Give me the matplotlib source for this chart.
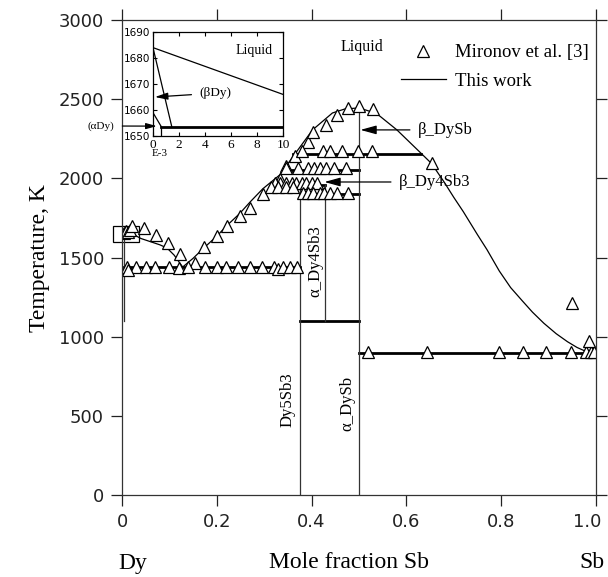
import matplotlib
matplotlib.use("Agg")
import matplotlib.pyplot as plt
import matplotlib.transforms as mtransforms
from matplotlib.lines import Line2D

SERIF = "Liberation Serif"

# liquidus curves (calculated, "This work")
liq_dy_x = [0.0, 0.02, 0.04, 0.06, 0.08, 0.095, 0.11, 0.128]
liq_dy_t = [1684, 1652, 1620, 1600, 1580, 1560, 1515, 1440]
liq_mid_x = [0.128, 0.15, 0.171, 0.2, 0.221, 0.248, 0.27, 0.297, 0.333, 0.368, 0.402, 0.444, 0.47, 0.5]
liq_mid_t = [1440, 1495, 1556, 1635, 1701, 1777, 1850, 1934, 2022, 2167, 2306, 2413, 2438, 2445]
liq_sb_x = [0.5, 0.537, 0.58, 0.628, 0.653, 0.68, 0.7, 0.72, 0.75, 0.77, 0.796, 0.82,
            0.845, 0.866, 0.89, 0.916, 0.94, 0.96, 0.975, 0.985, 1.0]
liq_sb_t = [2445, 2410, 2306, 2167, 2094, 1975, 1880, 1790, 1644, 1550, 1415, 1310,
            1225, 1155, 1085, 1019, 968, 932, 912, 902, 904]

# invariant (horizontal) lines: temperature, x start, x end
inv_t = [1440, 1100, 1900, 1955, 2055, 2155, 900]
inv_x0 = [0.004, 0.375, 0.375, 0.315, 0.345, 0.36, 0.5]
inv_x1 = [0.375, 0.5, 0.5, 0.4286, 0.5, 0.63, 1.0]

# compound lines: x, T low, T high
comp_x = [0.375, 0.4286, 0.5, 0.004]
comp_lo = [0, 1100, 0, 1100]
comp_hi = [1955, 1960, 2445, 1650]

# Mironov et al. [3] data
mir_x = [0.005, 0.009, 0.013, 0.017,
         0.022, 0.047, 0.072, 0.096, 0.122,
         0.154, 0.173, 0.2, 0.222, 0.248, 0.27, 0.297, 0.333, 0.347, 0.364,
         0.392, 0.403, 0.43, 0.453, 0.476, 0.499, 0.53, 0.653,
         0.01, 0.03, 0.05, 0.07, 0.1, 0.12, 0.14, 0.175, 0.2, 0.22, 0.245,
         0.27, 0.295, 0.32, 0.33, 0.34, 0.355, 0.37, 0.012,
         0.379, 0.423, 0.438, 0.465, 0.497, 0.528,
         0.345, 0.371, 0.392, 0.406, 0.417, 0.43, 0.448, 0.473,
         0.322, 0.333, 0.347, 0.358, 0.368, 0.379, 0.389, 0.4, 0.411,
         0.315, 0.33, 0.345, 0.36,
         0.381, 0.392, 0.402, 0.417, 0.427, 0.438, 0.453, 0.476,
         0.518, 0.644, 0.796, 0.845, 0.895, 0.947, 0.979, 0.989, 0.996,
         0.95, 0.985]
mir_t = [1655, 1670, 1660, 1675,
         1701, 1688, 1645, 1594, 1525,
         1468, 1569, 1638, 1701, 1764, 1815, 1903, 1997, 2080, 2142,
         2230, 2295, 2340, 2400, 2442, 2457, 2435, 2098,
         1440, 1438, 1442, 1438, 1440, 1436, 1440, 1438, 1442, 1440, 1438,
         1440, 1442, 1438, 1425, 1440, 1438, 1440, 1418,
         2170, 2170, 2170, 2170, 2170, 2170,
         2065, 2065, 2065, 2065, 2065, 2065, 2065, 2065,
         1972, 1972, 1972, 1972, 1972, 1972, 1972, 1972, 1972,
         1945, 1945, 1945, 1945,
         1910, 1910, 1910, 1910, 1910, 1910, 1910, 1910,
         905, 905, 905, 905, 905, 905, 905, 905, 905,
         1210, 975]

# inset (Dy-rich corner, x in units of 1e-3)
ins_liq_x = [0, 10]
ins_liq_t = [1684, 1666]
ins_bdy_x = [0, 1.45]
ins_bdy_t = [1684, 1653.5]
ins_ady_x = [0, 0.65]
ins_ady_t = [1659, 1653.5]


def main():
    fig = plt.figure(figsize=(6.08, 5.77), dpi=100)
    ax = fig.add_axes([0.2007, 0.1421, 0.7795, 0.8232])

    ax.plot(liq_dy_x, liq_dy_t, "k-", lw=0.9)
    ax.plot(liq_mid_x, liq_mid_t, "k-", lw=0.9)
    ax.plot(liq_sb_x, liq_sb_t, "k-", lw=0.9)
    for t, a, b in zip(inv_t, inv_x0, inv_x1):
        ax.plot([a, b], [t, t], "k-", lw=2.0)
    for x, lo, hi in zip(comp_x, comp_lo, comp_hi):
        ax.plot([x, x], [lo, hi], color="#333333", lw=0.9)

    ax.plot(mir_x, mir_t, ls="none", marker="^", ms=8.5, mfc="white",
            mec="black", mew=0.9)

    # small box marking the inset region
    ax.add_patch(plt.Rectangle((-0.019, 1600), 0.055, 100, fill=False,
                               ec="black", lw=0.9, clip_on=False))

    ax.set_xlim(0, 1)
    ax.set_ylim(0, 3000)
    ax.set_xticks([0, 0.2, 0.4, 0.6, 0.8, 1.0])
    ax.set_xticklabels(["0", "0.2", "0.4", "0.6", "0.8", "1.0"])
    ax.set_yticks(range(0, 3001, 500))
    ax.tick_params(direction="out", length=8, width=0.9, top=True, right=True,
                   labelsize=13, pad=5, colors="#222222")
    for s in ax.spines.values():
        s.set_linewidth(0.9)
        s.set_color("#333333")
    # keep the last tick label inside the picture
    last = ax.get_xticklabels()[-1]
    last.set_transform(last.get_transform() +
                       mtransforms.ScaledTranslation(-6 / 72, 0, fig.dpi_scale_trans))

    ax.text(0.507, 2830, "Liquid", family=SERIF, fontsize=11.5, ha="center", va="center")
    arrow = dict(arrowstyle="-|>,head_length=0.8,head_width=0.22", color="black",
                 lw=0.9, shrinkA=4, shrinkB=0)
    ax.annotate("β_DySb", xy=(0.503, 2306), xytext=(0.625, 2306), family=SERIF,
                fontsize=12, va="center", ha="left", arrowprops=arrow)
    ax.annotate("β_Dy4Sb3", xy=(0.427, 1977), xytext=(0.585, 1977), family=SERIF,
                fontsize=12, va="center", ha="left", arrowprops=arrow)
    ax.text(0.349, 600, "Dy5Sb3", family=SERIF, fontsize=12, rotation=90,
            ha="center", va="center")
    ax.text(0.476, 581, "α_DySb", family=SERIF, fontsize=12, rotation=90,
            ha="center", va="center")
    ax.text(0.408, 1478, "α_Dy4Sb3", family=SERIF, fontsize=12, rotation=90,
            ha="center", va="center")

    handles = [Line2D([], [], ls="none", marker="^", ms=8.5, mfc="white",
                      mec="black", mew=0.9),
               Line2D([], [], color="black", lw=0.9)]
    ax.legend(handles, ["Mironov et al. [3]", "This work"], loc="upper left",
              bbox_to_anchor=(0.553, 0.985), frameon=False,
              prop={"family": SERIF, "size": 13.5}, handlelength=2.4,
              labelspacing=0.6, handletextpad=0.5)

    fig.text(40 / 608, 1 - 258 / 577, "Temperature, K", family=SERIF, fontsize=17,
             rotation=90, ha="center", va="center")
    fig.text(349 / 608, 1 - 563 / 577, "Mole fraction Sb", family=SERIF, fontsize=17,
             ha="center", va="center")
    fig.text(133 / 608, 1 - 563 / 577, "Dy", family=SERIF, fontsize=17,
             ha="center", va="center")
    fig.text(592 / 608, 1 - 563 / 577, "Sb", family=SERIF, fontsize=17,
             ha="center", va="center")

    # inset
    ins = fig.add_axes([0.2516, 0.7643, 0.2139, 0.1802])
    ins.plot(ins_liq_x, ins_liq_t, "k-", lw=0.9)
    ins.plot(ins_bdy_x, ins_bdy_t, "k-", lw=0.9)
    ins.plot(ins_ady_x, ins_ady_t, "k-", lw=0.9)
    ins.plot([0.6, 10], [1653.5, 1653.5], "k-", lw=2.0)
    ins.plot([0.6, 0.6], [1653.5, 1650], "k-", lw=0.9)
    ins.set_xlim(0, 10)
    ins.set_ylim(1650, 1690)
    ins.set_xticks(range(0, 11, 2))
    ins.set_yticks(range(1650, 1691, 10))
    ins.tick_params(direction="in", length=3, width=0.8, top=True, right=True, pad=2)
    for lab in ins.get_xticklabels():
        lab.set_family(SERIF)
        lab.set_fontsize(9.5)
    for lab in ins.get_yticklabels():
        lab.set_fontsize(7.5)
    for s in ins.spines.values():
        s.set_linewidth(0.9)
    ins.text(0.055, -0.17, "E-3", transform=ins.transAxes, family=SERIF,
             fontsize=8, ha="center", va="center")
    ins.text(7.8, 1683, "Liquid", family=SERIF, fontsize=10, ha="center", va="center")
    ins.annotate("(βDy)", xy=(0.15, 1665), xytext=(3.6, 1666.5), family=SERIF,
                 fontsize=9.5, va="center", ha="left", arrowprops=arrow)
    ins.annotate("(αDy)", xy=(0.3, 1653.8), xytext=(114 / 608, 1 - 126 / 577),
                 textcoords="figure fraction", family=SERIF, fontsize=8,
                 va="center", ha="right", arrowprops=arrow, annotation_clip=False)

    fig.savefig("out.png", dpi=100)


if __name__ == "__main__":
    main()
